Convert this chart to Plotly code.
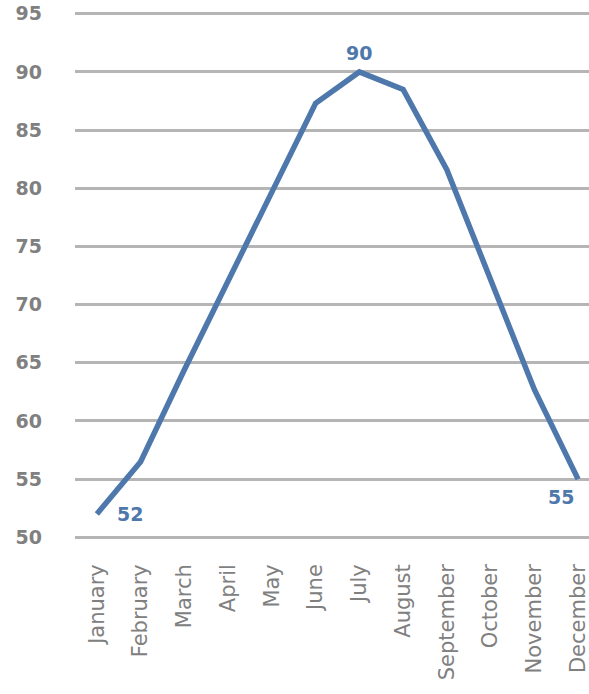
import plotly.graph_objects as go

months = ["January", "February", "March", "April", "May", "June",
          "July", "August", "September", "October", "November", "December"]
temps = [52, 56.5, 64.4, 72.1, 79.8, 87.3, 90, 88.5, 81.6, 72.3, 62.7, 55]

# value labels: month -> (xshift, yshift) in pixels
label_offsets = {"January": (33, 0), "July": (0, 19), "December": (-17, -18)}

BLUE = "#4e78ac"
GRAY = "#808080"

fig = go.Figure(go.Scatter(
    x=months, y=temps,
    mode="lines",
    line=dict(color=BLUE, width=5.5),
    hoverinfo="skip",
))

for m, v in zip(months, temps):
    if m in label_offsets:
        dx, dy = label_offsets[m]
        fig.add_annotation(
            x=m, y=v, text=f"{v:g}", showarrow=False,
            xshift=dx, yshift=dy,
            font=dict(family="DejaVu Sans", size=19, color=BLUE, weight="bold"),
        )

fig.update_layout(
    width=589, height=694,
    margin=dict(l=75, r=0, t=12, b=155),
    plot_bgcolor="white", paper_bgcolor="white",
    showlegend=False,
    xaxis=dict(
        range=[-0.5, 11.25],
        tickangle=-90,
        showgrid=False, showline=False, zeroline=False, ticks="",
        tickfont=dict(family="DejaVu Sans", size=21, color=GRAY),
        ticklabelstandoff=20,
    ),
    yaxis=dict(
        range=[49.85, 95.15], tickvals=list(range(50, 96, 5)),
        showgrid=True, gridcolor="#b5b5b5", gridwidth=3,
        zeroline=False, showline=False, ticks="",
        tickfont=dict(family="DejaVu Sans", size=19, color=GRAY, weight="bold"),
        ticklabelstandoff=32,
    ),
)

fig.write_html("out.html")
